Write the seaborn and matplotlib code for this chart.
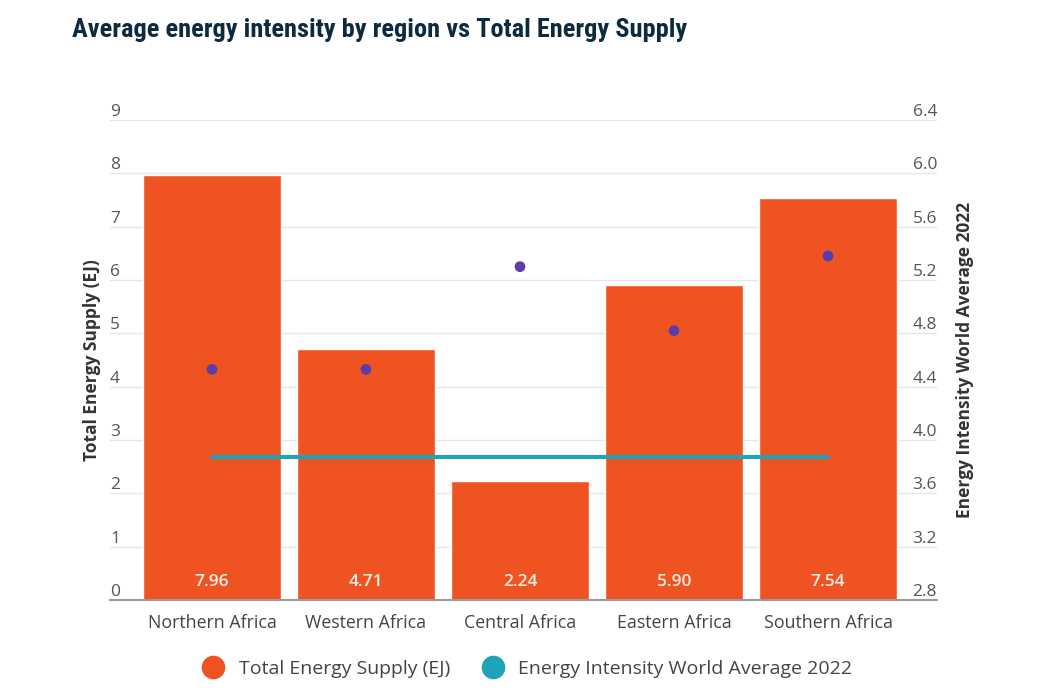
import numpy as np
import seaborn as sns
import matplotlib.pyplot as plt
from matplotlib.lines import Line2D

regions = ['Northern Africa', 'Western Africa', 'Central Africa', 'Eastern Africa', 'Southern Africa']
supply = [7.96, 4.71, 2.24, 5.90, 7.54]          # Total Energy Supply (EJ)
intensity = [4.53, 4.53, 5.30, 4.82, 5.38]       # regional energy intensity
world_avg = 3.87                                 # world average 2022
left_ticks = list(range(0, 10))
right_ticks = [2.8, 3.2, 3.6, 4.0, 4.4, 4.8, 5.2, 5.6, 6.0, 6.4]

orange = '#F05322'
purple = '#5A3EA6'
teal = '#1EA3B8'
grey = '#555555'

sns.set_theme(style='white')
plt.rcParams['font.family'] = ['Open Sans', 'DejaVu Sans']

fig = plt.figure(figsize=(10.56, 6.95), dpi=100)
ax = fig.add_axes([110/1056, 1 - 600/695, 827/1056, 480/695])

pos = np.arange(len(regions))
sns.barplot(x=pos, y=supply, ax=ax, color=orange, saturation=1, width=0.9, native_scale=True)
ax.set_xlim(-0.5 - 25/154, len(regions) - 0.5 + 32/154)
ax.set_ylim(0, 9)
ax.set_yticks(left_ticks)
ax.set_yticklabels([])
ax.tick_params(axis='y', length=0)
ax.grid(axis='y', color='#E6E6E6', linewidth=1)
ax.set_axisbelow(True)
for s in ['top', 'right', 'left']:
    ax.spines[s].set_visible(False)
ax.spines['bottom'].set_color('#9A9A9A')
ax.spines['bottom'].set_linewidth(1.5)
ax.set_xticks(pos)
ax.set_xticklabels(regions, fontsize=12.8, color='#444444')
ax.tick_params(axis='x', length=0, pad=10)
ax.set_xlabel('')
ax.set_ylabel('Total Energy Supply (EJ)', fontsize=12.5, fontweight='bold', color='#333333', labelpad=3)

# left tick labels sit just above their gridlines
for t in left_ticks:
    ax.text(0, t, str(t), transform=ax.get_yaxis_transform(), ha='left', va='bottom',
            fontsize=12.5, color=grey)
    
# value labels at the foot of each bar
for i, v in enumerate(supply):
    ax.annotate(f'{v:.2f}', xy=(i, 0), xytext=(0, 13), textcoords='offset points',
                ha='center', va='center', fontsize=12.5, fontweight='semibold', color='#FFF0E8')

ax2 = ax.twinx()
ax2.set_ylim(2.8, 6.4)
sns.lineplot(x=pos, y=[world_avg] * len(pos), ax=ax2, color=teal, linewidth=3)
sns.scatterplot(x=pos, y=intensity, ax=ax2, color=purple, s=60, edgecolor='none', zorder=5)
ax2.set_yticks(right_ticks)
ax2.set_yticklabels([])
ax2.tick_params(axis='y', length=0)
ax2.grid(False)
for s in ax2.spines.values():
    s.set_visible(False)
ax2.set_ylabel('Energy Intensity World Average 2022', fontsize=12.5, fontweight='bold',
               color='#333333', labelpad=10)
for t in right_ticks:
    ax2.text(1, t, f'{t:.1f}', transform=ax2.get_yaxis_transform(), ha='right', va='bottom',
             fontsize=12.5, color=grey)

fig.text(72/1056, 1 - 30/695, 'Average energy intensity by region vs Total Energy Supply',
         family=['Roboto Condensed', 'DejaVu Sans'], fontstretch='condensed', fontweight='bold',
         fontsize=19, color='#0D2A3E', va='center', ha='left')

handles = [Line2D([], [], marker='o', linestyle='none', markersize=16, color=orange),
           Line2D([], [], marker='o', linestyle='none', markersize=16, color=teal)]
fig.legend(handles, ['Total Energy Supply (EJ)', 'Energy Intensity World Average 2022'],
           loc='center', bbox_to_anchor=(523/1056, 1 - 669/695), ncol=2, frameon=False,
           fontsize=14, handletextpad=0.3, columnspacing=1.2, labelcolor='#444444')

fig.savefig('out.png', dpi=100)
